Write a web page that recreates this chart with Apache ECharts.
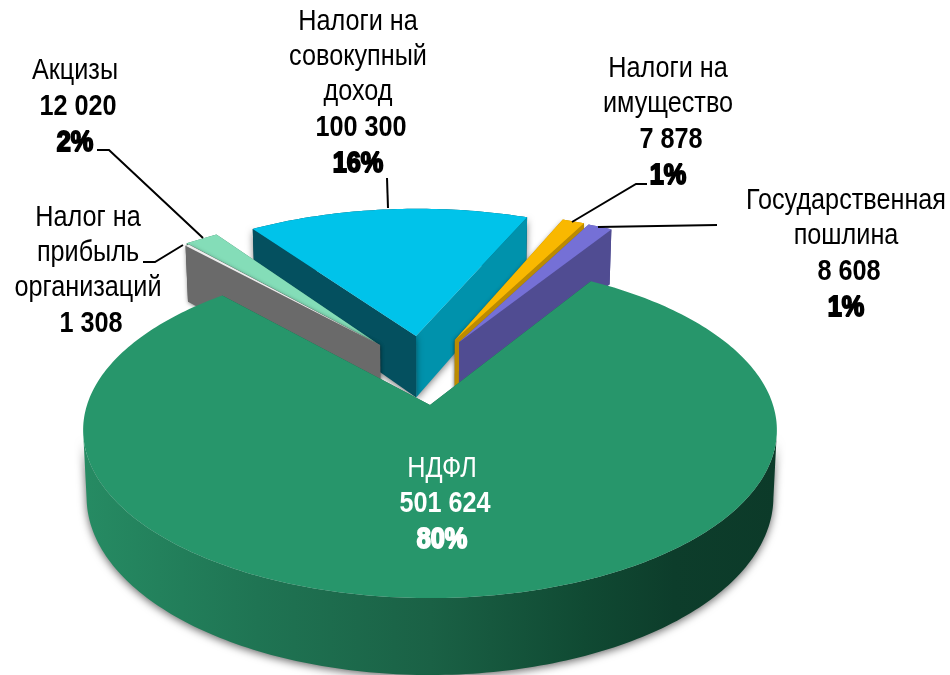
<!DOCTYPE html>
<html><head><meta charset="utf-8">
<style>html,body{margin:0;padding:0;background:#fff}#c{width:950px;height:675px}</style>
<script src="https://cdn.jsdelivr.net/npm/echarts@6/dist/echarts.min.js"></script>
</head><body><div id="c"></div>
<script>
// Data
const categories = ['НДФЛ', 'Налог на\nприбыль\nорганизаций', 'Акцизы', 'Налоги на\nсовокупный\nдоход', 'Налоги на\nимущество', 'Государственная\nпошлина'];
const values = [501624, 1308, 12020, 100300, 7878, 8608];
const percentLabels = ['80%', '', '2%', '16%', '1%', '1%'];

// Look of each slice
const topColors = ['#27966B', '#EDEDED', '#84DDB8', '#00C3EA', '#F9B800', '#7570D6'];
const leftWallColors = ['#1a6346', '#6A6A6A', '#3F7D62', '#04505F', '#BC8B00', '#504C92'];
const rightWallColors = ['#1a6346', '#6A6A6A', '#3F7D62', '#0092AC', '#BC8B00', '#504C92'];
const explode = [[0, 0], [-0.154, -0.386], [-0.165, -0.40], [-0.0435, -0.448], [0.077, -0.42], [0.09, -0.405]];
const radii = [1, 1.01, 1.005, 1.005, 1.015, 1.02];
const drawOrder = [3, 2, 1, 4, 5, 0];
const labelAnchors = [[442, 451], [88, 200.5], [75, 53.5], [358, 4.5], [668, 51.5], [846, 183.5]];
const leaderLines = [null, [[143, 262], [155, 262], [183, 245]], [[97, 150], [109, 150], [203, 238]],
  [[387, 178], [388, 208]], [[647, 184], [636, 184], [572, 222]], [[717, 225], [598, 227]]];

// Perspective of the pie plane
const X0 = 430, Y0 = 405, F = 343, G = 164.3, P = 0.149, DEPTH = 65.5, SHRINK = 0.99;
const START_ANGLE = 31.9;
const total = values.reduce((a, b) => a + b, 0);

const rad = d => d * Math.PI / 180;
function topPt(w) { const s = 1 / (1 - P * w[1]); return [X0 + F * w[0] * s, Y0 + G * w[1] * s]; }
function botPt(w) { const s = 1 / (1 - P * w[1]); return [X0 + F * w[0] * s * SHRINK, Y0 + G * w[1] * s + DEPTH * s]; }
function fmt(v) { return String(v).replace(/\B(?=(\d{3})+$)/g, ' '); }

const starts = [];
values.reduce((acc, v, i) => { starts[i] = acc; return acc + v / total * 360; }, START_ANGLE);

function poly(points, fill, z2, shadow) {
  const style = { fill: fill };
  if (shadow) { style.shadowBlur = shadow[0]; style.shadowColor = shadow[1]; style.shadowOffsetY = shadow[2]; }
  return { type: 'polygon', z2: z2, silent: true, shape: { points: points }, style: style };
}

function renderItem(params, api) {
  const i = params.dataIndex;
  const sweep = api.value(0) / total * 360;
  const a0 = starts[i], a1 = a0 + sweep;
  const o = explode[i], r = radii[i];
  const base = drawOrder.indexOf(i) * 10 + 1;
  const arc = [];
  const steps = Math.max(4, Math.ceil(sweep));
  for (let k = 0; k <= steps; k++) {
    const a = rad(a0 + (a1 - a0) * k / steps);
    arc.push([o[0] + r * Math.sin(a), o[1] - r * Math.cos(a)]);
  }
  const topArc = arc.map(topPt);
  const ct = topPt(o), cb = botPt(o);
  const last = arc.length - 1;
  const children = [];

  // Outer rim: only the part facing the viewer, so that its shadow stays under the pie
  const front = i === 0 ? arc.filter(w => w[1] >= P) : arc;
  const wallFill = i === 0 ? {
    type: 'linear', global: true, x: 84, y: 0, x2: 778, y2: 0,
    colorStops: [{ offset: 0, color: '#268B63' }, { offset: 0.25, color: '#1F7453' }, { offset: 0.5, color: '#1A6145' },
      { offset: 0.72, color: '#104A33' }, { offset: 0.85, color: '#0D3D2B' }, { offset: 1, color: '#0C3A29' }]
  } : leftWallColors[i];
  const rimShadow = i === 0 ? [8, 'rgba(0,0,0,0.6)', 2] : null;
  children.push(poly(front.map(topPt).concat(front.map(botPt).reverse()), wallFill, base, rimShadow));

  // Radial walls; the edge facing the viewer goes on top
  const wallShadow = i === 3 ? [7, 'rgba(0,0,0,0.5)', 2] : (i === 1 || i === 4) ? [4, 'rgba(0,0,0,0.35)', 1] : null;
  const mid = ((a0 + a1) / 2 + 180) % 360 - 180;
  const a0Wall = mid < 0 ? base + 2 : base + 1;
  const a1Wall = mid < 0 ? base + 1 : base + 2;
  children.push(poly([ct, topArc[0], botPt(arc[0]), cb], leftWallColors[i], a0Wall, i === 0 ? null : wallShadow));
  children.push(poly([ct, topArc[last], botPt(arc[last]), cb], rightWallColors[i], a1Wall, i === 0 ? null : wallShadow));

  // Top face
  children.push(poly([ct].concat(topArc), topColors[i], base + 4));

  // Label
  const pct = percentLabels[i];
  const lines = categories[i].split('\n').map(s => '{n|' + s + '}');
  lines.push('{v|' + fmt(api.value(0)) + '}');
  if (pct) lines.push('{p|' + pct + '}');
  const col = i === 0 ? '#fff' : '#000';
  const font = '"Liberation Sans",sans-serif';
  children.push({
    type: 'text', z2: 200, silent: true, x: labelAnchors[i][0], y: labelAnchors[i][1], scaleX: 0.855,
    style: {
      text: lines.join('\n'), align: 'center', verticalAlign: 'top', fill: col, fontFamily: font,
      rich: {
        n: { fontSize: 29.5, lineHeight: 35, fill: col, fontFamily: font, align: 'center' },
        v: { fontSize: 29.5, lineHeight: 36, fontWeight: 'bold', fill: col, fontFamily: font, align: 'center', padding: [0, 0, 0, 7] },
        p: { fontSize: 29.5, lineHeight: 36, fontWeight: 'bold', fill: col, stroke: col, lineWidth: 2, fontFamily: font, align: 'center' }
      }
    }
  });
  if (leaderLines[i]) {
    children.push({ type: 'polyline', z2: 150, silent: true, shape: { points: leaderLines[i] },
      style: { stroke: '#000', lineWidth: 2, fill: null } });
  }
  return { type: 'group', children: children };
}

const chart = echarts.init(document.getElementById('c'), null, { renderer: 'canvas' });
chart.setOption({
  animation: false,
  backgroundColor: '#fff',
  series: [{
    type: 'custom',
    coordinateSystem: 'none',
    renderItem: renderItem,
    clip: false,
    data: values.map((v, i) => ({ name: categories[i], value: [v] }))
  }]
});
</script></body></html>
